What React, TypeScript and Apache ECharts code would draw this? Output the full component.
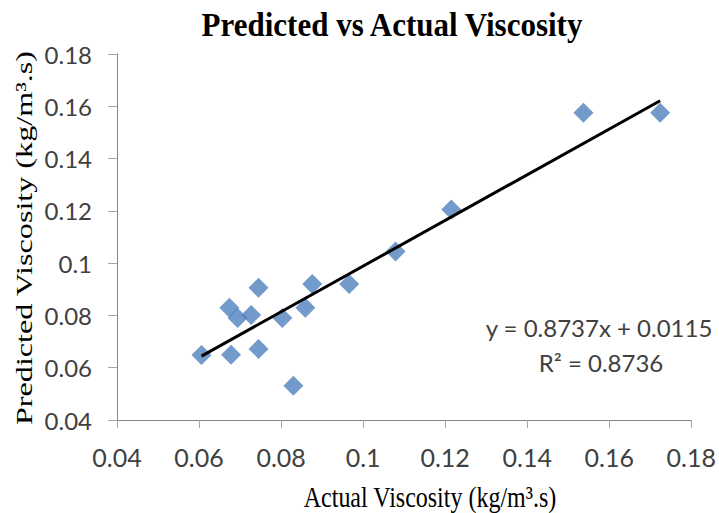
import React, { useEffect, useRef } from "react";
import * as echarts from "echarts";

const titleText = "Predicted vs Actual Viscosity";
const xAxisTitle = "Actual Viscosity (kg/m³.s)";
const yAxisTitle = "Predicted Viscosity (kg/m³.s)";
const equationText = "y = 0.8737x + 0.0115";
const r2Text = "R² = 0.8736";

const actualViscosity = [
  0.0606, 0.0678, 0.0745, 0.083, 0.0674, 0.0694, 0.0727, 0.0745, 0.0803,
  0.0859, 0.0876, 0.0966, 0.1079, 0.1215, 0.1537, 0.1724,
];
const predictedViscosity = [
  0.0649, 0.065, 0.0672, 0.0531, 0.0829, 0.079, 0.0802, 0.0906, 0.079,
  0.0829, 0.092, 0.092, 0.1045, 0.1205, 0.1575, 0.1575,
];

const trendSlope = 0.8737;
const trendIntercept = 0.0115;

const axisMin = 0.04;
const axisMax = 0.18;
const axisStep = 0.02;

export default function App() {
  const ref = useRef<HTMLDivElement>(null);

  useEffect(() => {
    if (!ref.current) return;
    const chart = echarts.init(ref.current, null, { renderer: "svg" });
    const points = actualViscosity.map((x, i) => [x, predictedViscosity[i]]);
    const xMin = Math.min(...actualViscosity);
    const xMax = Math.max(...actualViscosity);
    const trend = [
      [xMin, trendSlope * xMin + trendIntercept],
      [xMax, trendSlope * xMax + trendIntercept],
    ];
    const fmt = (v: number) => String(+v.toFixed(2));
    const tickFont = "Lato";
    chart.setOption({
      animation: false,
      backgroundColor: "#ffffff",
      grid: { left: 117, right: 25, top: 54, bottom: 93 },
      xAxis: {
        type: "value",
        min: axisMin,
        max: axisMax,
        interval: axisStep,
        axisLine: { show: true, lineStyle: { color: "#868686", width: 1 } },
        axisTick: { show: true, length: 8, lineStyle: { color: "#a6a6a6" } },
        splitLine: { show: false },
        axisLabel: {
          formatter: fmt,
          fontFamily: tickFont,
          fontSize: 25,
          color: "#404040",
          margin: 24,
        },
      },
      yAxis: {
        type: "value",
        min: axisMin,
        max: axisMax,
        interval: axisStep,
        axisLine: { show: true, lineStyle: { color: "#868686", width: 1 } },
        axisTick: { show: true, length: 9, lineStyle: { color: "#a6a6a6" } },
        splitLine: { show: false },
        axisLabel: {
          formatter: fmt,
          fontFamily: tickFont,
          fontSize: 24,
          color: "#404040",
          margin: 25,
        },
      },
      series: [
        {
          type: "scatter",
          data: points,
          symbol: "diamond",
          symbolSize: 20,
          itemStyle: { color: "#4F81BD" },
          z: 2,
        },
        {
          type: "line",
          data: trend,
          showSymbol: false,
          symbol: "none",
          lineStyle: { color: "#000000", width: 3 },
          z: 3,
        },
      ],
      graphic: [
        {
          type: "text",
          x: 392,
          y: 24,
          scaleY: 1.12,
          style: {
            text: titleText,
            fontFamily: "Liberation Serif",
            fontWeight: "bold",
            fontSize: 31,
            fill: "#000000",
            align: "center",
            verticalAlign: "middle",
          },
        },
        {
          type: "text",
          x: 430,
          y: 497,
          scaleY: 1.25,
          style: {
            text: xAxisTitle,
            fontFamily: "Liberation Serif",
            fontSize: 24,
            fill: "#000000",
            align: "center",
            verticalAlign: "middle",
          },
        },
        {
          type: "text",
          x: 24,
          y: 238,
          rotation: Math.PI / 2,
          scaleX: 1.34,
          style: {
            text: yAxisTitle,
            fontFamily: "Liberation Serif",
            fontSize: 24,
            fill: "#000000",
            align: "center",
            verticalAlign: "middle",
          },
        },
        {
          type: "text",
          x: 599,
          y: 327,
          style: {
            text: equationText,
            fontFamily: tickFont,
            fontSize: 24,
            fill: "#404040",
            align: "center",
            verticalAlign: "middle",
          },
        },
        {
          type: "text",
          x: 601,
          y: 362,
          style: {
            text: r2Text,
            fontFamily: tickFont,
            fontSize: 24,
            fill: "#404040",
            align: "center",
            verticalAlign: "middle",
          },
        },
      ],
    });
    return () => chart.dispose();
  }, []);

  return (
    <div
      ref={ref}
      style={{ position: "fixed", left: 0, top: 0, width: 719, height: 513 }}
    />
  );
}
